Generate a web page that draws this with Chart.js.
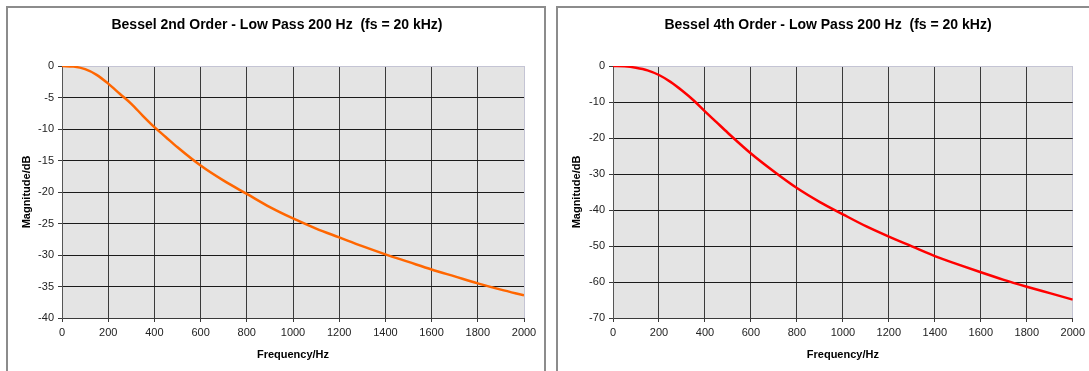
<!DOCTYPE html>
<html>
<head>
<meta charset="utf-8">
<script src="https://cdn.jsdelivr.net/npm/chart.js@4.4.1/dist/chart.umd.min.js"></script>
<style>
  html, body { margin: 0; padding: 0; background: #fff; width: 1089px; height: 371px; overflow: hidden; }
  .box { position: absolute; top: 6px; border: 2px solid #8c8c8c; background: #fff; }
  #box1 { left: 6px; width: 536px; height: 380px; }
  #box2 { left: 556px; width: 560px; height: 380px; }
  canvas { position: absolute; top: 0; left: 0; }
</style>
</head>
<body>
<div class="box" id="box1"><canvas id="c1" width="536" height="363"></canvas></div>
<div class="box" id="box2"><canvas id="c2" width="531" height="363"></canvas></div>
<script>
// Data
const freqHz = [0, 50, 100, 150, 200, 250, 300, 350, 400, 450, 500, 600, 700, 800, 900, 1000, 1100, 1200, 1300, 1400, 1500, 1600, 1700, 1800, 1900, 2000];
const mag2ndOrder = [0, -0.1, -0.5, -1.4, -2.8, -4.4, -6.0, -7.9, -9.7, -11.3, -12.9, -15.8, -18.2, -20.3, -22.4, -24.2, -25.8, -27.2, -28.6, -29.9, -31.1, -32.3, -33.4, -34.5, -35.5, -36.4];
const mag4thOrder = [0, -0.1, -0.5, -1.2, -2.5, -4.4, -6.8, -9.5, -12.6, -15.6, -18.6, -24.3, -29.3, -33.9, -37.8, -41.2, -44.5, -47.4, -50.1, -52.8, -55.1, -57.3, -59.4, -61.3, -63.1, -64.9];
const title2 = 'Bessel 2nd Order - Low Pass 200 Hz  (fs = 20 kHz)';
const title4 = 'Bessel 4th Order - Low Pass 200 Hz  (fs = 20 kHz)';
const xTitle = 'Frequency/Hz';
const yTitle = 'Magnitude/dB';

const FONT = '"Liberation Sans", Arial, sans-serif';

function makeChart(id, values, color, yMin, yStep, yWidth, padRight, title, titleCx) {
  const pts = freqHz.map((f, i) => ({ x: f, y: values[i] }));
  return new Chart(document.getElementById(id), {
    type: 'scatter',
    data: {
      datasets: [{
        data: pts,
        showLine: true,
        borderColor: color,
        borderWidth: 2.5,
        pointRadius: 0,
        cubicInterpolationMode: 'monotone',
        fill: false
      }]
    },
    options: {
      responsive: false,
      animation: false,
      devicePixelRatio: 1,
      layout: { padding: { left: 0, right: padRight, top: 58, bottom: 0 } },
      plugins: {
        legend: { display: false },
        tooltip: { enabled: false },
        title: { display: false }
      },
      scales: {
        x: {
          type: 'linear',
          min: 0, max: 2000,
          afterFit: (s) => { s.height = 53; },
          ticks: { stepSize: 200, color: '#222', padding: 4, maxRotation: 0,
                   callback: (v) => String(v),
                   font: { family: FONT, size: 11 } },
          grid: {
            color: (c) => (c.tick && c.tick.value === 2000) ? '#c4c4d4' : '#3a3a3a',
            lineWidth: 1,
            tickLength: 4,
            tickColor: '#3a3a3a'
          },
          border: { color: '#3a3a3a', width: 1 },
          title: { display: true, text: xTitle, color: '#000',
                   font: { family: FONT, size: 11, weight: 'bold', lineHeight: 1.2 },
                   padding: { top: 0, bottom: 9 } }
        },
        y: {
          type: 'linear',
          min: yMin, max: 0,
          afterFit: (s) => { s.width = yWidth; },
          ticks: { stepSize: yStep, color: '#222', padding: 4,
                   callback: (v) => String(v),
                   font: { family: FONT, size: 11 } },
          grid: {
            color: (c) => (c.tick && c.tick.value === 0) ? '#c4c4d4' : '#1a1a1a',
            lineWidth: 1,
            tickLength: 4,
            tickColor: '#3a3a3a'
          },
          border: { color: '#555', width: 1 },
          title: { display: true, text: yTitle, color: '#000',
                   font: { family: FONT, size: 11, weight: 'bold', lineHeight: 1.2 },
                   padding: { top: 12, bottom: 0 } }
        }
      }
    },
    plugins: [{
      id: 'plotBgAndTitle',
      beforeDraw(chart) {
        const a = chart.chartArea, ctx = chart.ctx;
        ctx.save();
        ctx.fillStyle = '#e4e4e4';
        ctx.fillRect(a.left, a.top, a.right - a.left, a.bottom - a.top);
        ctx.restore();
      },
      afterDraw(chart) {
        const ctx = chart.ctx;
        ctx.save();
        ctx.fillStyle = '#000';
        ctx.font = 'bold 14px ' + FONT;
        ctx.textAlign = 'center';
        ctx.textBaseline = 'middle';
        ctx.fillText(title, titleCx, 17);
        ctx.restore();
      }
    }]
  });
}

makeChart('c1', mag2ndOrder, '#ff6600', -40, 5, 54, 20, title2, 269);
makeChart('c2', mag4thOrder, '#ff0000', -70, 10, 55, 13, title4, 270);
</script>
</body>
</html>
